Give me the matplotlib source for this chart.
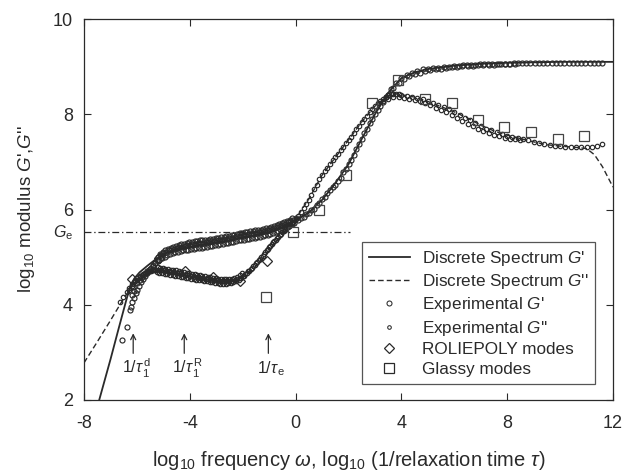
import matplotlib
matplotlib.use('Agg')
import matplotlib.pyplot as plt
from matplotlib.lines import Line2D

plt.rcParams['font.family'] = ['Liberation Sans', 'DejaVu Sans']
plt.rcParams['mathtext.fontset'] = 'custom'
plt.rcParams['mathtext.rm'] = 'Liberation Sans'
plt.rcParams['mathtext.it'] = 'Liberation Sans:italic'
plt.rcParams['mathtext.bf'] = 'Liberation Sans:bold'
plt.rcParams['axes.unicode_minus'] = False
plt.rcParams['lines.scale_dashes'] = False

# ---------------- data ----------------
# Discrete-spectrum fit curves
fit_gp_x = [-7.6, -7.4, -7.0, -6.7, -6.4, -6.26, -6.1, -5.9, -5.6, -5.3, -5.0, -4.5, -4.0, -3.5,
            -3.0, -2.5, -2.0, -1.5, -1.0, -0.5, 0.0, 0.5, 1.0, 1.5, 2.0, 2.5, 3.0, 3.5, 4.0, 4.5,
            5.0, 6.0, 7.0, 8.0, 9.0, 10.0, 11.0, 12.0]
fit_gp_y = [1.65, 2.05, 2.85, 3.48, 4.10, 4.38, 4.55, 4.68, 4.82, 4.95, 5.06, 5.16, 5.22, 5.27,
            5.31, 5.36, 5.42, 5.47, 5.53, 5.63, 5.77, 5.94, 6.20, 6.55, 6.95, 7.48, 8.00, 8.45, 8.76,
            8.88, 8.95, 9.02, 9.06, 9.08, 9.09, 9.10, 9.10, 9.10]

fit_gpp_x = [-8.0, -7.5, -7.0, -6.5, -6.2, -6.0, -5.7, -5.3, -5.0, -4.5, -4.0, -3.5, -3.0, -2.7,
             -2.3, -2.0, -1.5, -1.0, -0.5, 0.0, 0.5, 1.0, 1.5, 2.0, 2.5, 3.0, 3.5, 3.8, 4.0, 4.5,
             5.0, 5.5, 6.0, 6.5, 7.0, 7.5, 8.0, 8.5, 9.0, 9.5, 10.0, 10.5, 11.0, 11.3, 11.6, 12.0]
fit_gpp_y = [2.78, 3.22, 3.67, 4.13, 4.38, 4.52, 4.64, 4.72, 4.71, 4.66, 4.59, 4.53, 4.48, 4.46,
             4.49, 4.57, 4.81, 5.14, 5.48, 5.80, 6.22, 6.72, 7.09, 7.46, 7.84, 8.17, 8.39, 8.43, 8.41, 8.36,
             8.27, 8.16, 8.05, 7.92, 7.77, 7.65, 7.56, 7.49, 7.42, 7.36, 7.33, 7.31, 7.28, 7.15, 6.90, 6.47]

# Experimental G' (several overlapping sweeps)
exp_gp_a_x = [-6.58, -6.39, -6.26, -6.20, -6.12, -6.05, -5.98, -5.92, -5.85, -5.78, -5.70, -5.62,
              -5.55, -5.47, -5.40, -5.32, -5.25,
              -5.2, -5.1, -5.0, -4.9, -4.8, -4.7, -4.6, -4.5, -4.4, -4.3, -4.2, -4.1, -4.0, -3.9,
              -3.8, -3.7, -3.6, -3.5, -3.4, -3.3, -3.2, -3.1, -3.0, -2.9, -2.8, -2.7, -2.6, -2.5,
              -2.4, -2.3, -2.2, -2.1, -2.0, -1.9, -1.8, -1.7, -1.6, -1.5, -1.4, -1.3, -1.2, -1.1,
              -1.0, -0.9, -0.8, -0.7, -0.6, -0.5, -0.4, -0.3, -0.2, -0.1, 0.0,
              0.2, 0.4, 0.6, 0.8, 1.0, 1.2, 1.4, 1.6, 1.8, 2.0, 2.2, 2.4, 2.6, 2.8, 3.0, 3.2, 3.4,
              3.6, 3.8, 4.0, 4.2, 4.4, 4.6, 4.8, 5.0, 5.2, 5.4, 5.6, 5.8,
              6.0, 6.16, 6.32, 6.48, 6.64, 6.80, 6.96, 7.12, 7.28, 7.44, 7.60, 7.76, 7.92, 8.08,
              8.24, 8.40, 8.56, 8.72, 8.88, 9.04, 9.20, 9.36, 9.52, 9.68, 9.84, 10.00, 10.16,
              10.32, 10.48, 10.64, 10.80, 10.96, 11.12, 11.28, 11.44, 11.60]
exp_gp_a_y = [3.26, 3.54, 3.89, 4.06, 4.15, 4.25, 4.32, 4.40, 4.47, 4.54, 4.60, 4.66,
              4.72, 4.78, 4.83, 4.88, 4.93,
              5.00, 5.04, 5.08, 5.11, 5.14, 5.16, 5.18, 5.20, 5.21, 5.22, 5.24, 5.25, 5.26, 5.27,
              5.28, 5.29, 5.29, 5.30, 5.31, 5.32, 5.33, 5.34, 5.35, 5.36, 5.37, 5.38, 5.39, 5.40,
              5.41, 5.42, 5.44, 5.45, 5.46, 5.47, 5.48, 5.49, 5.50, 5.51, 5.52, 5.53, 5.55, 5.56,
              5.57, 5.59, 5.61, 5.63, 5.65, 5.67, 5.70, 5.73, 5.76, 5.79, 5.82,
              5.83, 5.90, 5.99, 6.10, 6.22, 6.35, 6.48, 6.60, 6.78, 6.95, 7.15, 7.38, 7.60, 7.81,
              8.00, 8.18, 8.36, 8.52, 8.66, 8.76, 8.82, 8.87, 8.91, 8.94, 8.96, 8.97, 8.98, 8.99, 9.00,
              9.01, 9.02, 9.03, 9.03, 9.04, 9.04, 9.05, 9.05, 9.05, 9.06, 9.06, 9.06, 9.06, 9.06,
              9.07, 9.07, 9.07, 9.07, 9.07, 9.07, 9.07, 9.07, 9.07, 9.07, 9.07, 9.07, 9.07,
              9.07, 9.07, 9.07, 9.07, 9.07, 9.07, 9.07, 9.07, 9.07]
exp_gp_b_x = [-6.22, -6.18, -6.10, -6.15, -6.0, -5.9, -5.8, -5.7, -5.6, -5.5, -5.4, -5.3, -5.2,
              -5.15, -5.05, -4.95, -4.85, -4.75, -4.65, -4.55, -4.45, -4.35,
              -4.25, -4.15, -4.05, -3.95, -3.85, -3.75, -3.65, -3.55, -3.45, -3.35, -3.25, -3.15,
              -3.05, -2.95, -2.85, -2.75, -2.65, -2.55, -2.45, -2.35, -2.25, -2.15, -2.05, -1.95,
              -1.85, -1.75, -1.65, -1.55, -1.45, -1.35, -1.25, -1.15, -1.05, -0.95, -0.85, -0.75,
              -0.65, -0.55, -0.45, -0.35, -0.25, -0.15, -0.05,
              0.1, 0.3, 0.5, 0.7, 0.9, 1.1, 1.3, 1.5, 1.7, 1.9, 2.1, 2.3, 2.5, 2.7, 2.9, 3.1, 3.3,
              3.5, 3.7, 3.9, 4.1, 4.3, 4.5, 4.7, 4.9, 5.1, 5.3, 5.5, 5.7, 5.9, 6.1, 6.3, 6.5, 6.7,
              6.9, 7.1, 7.3, 7.5, 7.7, 7.9, 8.1, 8.3]
exp_gp_b_y = [3.95, 4.20, 4.28, 4.38, 4.45, 4.52, 4.58, 4.64, 4.70, 4.76, 4.82, 4.87, 4.91,
              4.94, 4.98, 5.01, 5.04, 5.06, 5.08, 5.10, 5.11, 5.12,
              5.14, 5.15, 5.16, 5.17, 5.18, 5.19, 5.20, 5.20, 5.21, 5.22, 5.23, 5.24,
              5.25, 5.26, 5.27, 5.28, 5.29, 5.30, 5.31, 5.32, 5.33, 5.35, 5.36, 5.37,
              5.38, 5.39, 5.40, 5.41, 5.42, 5.43, 5.44, 5.46, 5.47, 5.49, 5.51, 5.53,
              5.55, 5.58, 5.60, 5.63, 5.66, 5.69, 5.72,
              5.78, 5.85, 5.93, 6.02, 6.14, 6.26, 6.40, 6.52, 6.66, 6.84, 7.04, 7.26, 7.49, 7.70,
              7.90, 8.08, 8.26, 8.40, 8.55, 8.66, 8.74, 8.80, 8.84, 8.87, 8.90, 8.92, 8.94, 8.96,
              8.97, 8.99, 9.00, 9.01, 9.02, 9.02, 9.03, 9.03, 9.04, 9.04, 9.05, 9.05, 9.06, 9.06]
exp_gp_c_x = [-5.12, -5.02, -4.92, -4.82, -4.72, -4.62, -4.52, -4.42, -4.32, -4.22, -4.12, -4.02,
              -3.92, -3.82, -3.72, -3.62, -3.52, -3.42, -3.32, -3.22, -3.12, -3.02, -2.92, -2.82,
              -2.72, -2.62, -2.52, -2.42, -2.32, -2.22, -2.12, -2.02, -1.92, -1.82, -1.72, -1.62,
              -1.52, -1.42, -1.32, -1.22, -1.12, -1.02, -0.92, -0.82, -0.72, -0.62, -0.52, -0.42,
              -0.32, -0.22, -0.12]
exp_gp_c_y = [5.07, 5.11, 5.14, 5.17, 5.20, 5.22, 5.24, 5.26, 5.27, 5.28, 5.30, 5.31,
              5.32, 5.33, 5.34, 5.35, 5.35, 5.36, 5.37, 5.38, 5.39, 5.40, 5.41, 5.42,
              5.43, 5.44, 5.45, 5.46, 5.47, 5.48, 5.50, 5.51, 5.52, 5.53, 5.54, 5.55,
              5.56, 5.57, 5.58, 5.59, 5.61, 5.62, 5.63, 5.65, 5.67, 5.69, 5.71, 5.73,
              5.76, 5.79, 5.82]

# Experimental G''
exp_gpp_a_x = [-6.64, -6.51, -6.39, -6.28, -6.18, -6.08, -5.98, -5.88, -5.78, -5.68, -5.58,
               -5.48, -5.38, -5.28,
               -5.2, -5.1, -5.0, -4.9, -4.8, -4.7, -4.6, -4.5, -4.4, -4.3, -4.2, -4.1, -4.0, -3.9,
               -3.8, -3.7, -3.6, -3.5, -3.4, -3.3, -3.2, -3.1, -3.0, -2.9, -2.8, -2.7, -2.6, -2.5,
               -2.4, -2.3, -2.2, -2.1, -2.0, -1.9, -1.8, -1.7, -1.6, -1.5, -1.4, -1.3, -1.2, -1.1,
               -1.0, -0.9, -0.8, -0.7, -0.6, -0.5, -0.4, -0.3, -0.2, -0.1, 0.0,
               0.1, 0.2, 0.3, 0.4, 0.5, 0.6, 0.7, 0.8, 0.9, 1.0, 1.1, 1.2, 1.3, 1.4, 1.5, 1.6, 1.7,
               1.8, 1.9, 2.0, 2.1, 2.2, 2.3, 2.4, 2.5, 2.6, 2.7, 2.8, 2.9, 3.0, 3.1, 3.2, 3.3, 3.4,
               3.5, 3.6, 3.7, 3.8, 3.9, 4.0,
               4.2, 4.4, 4.6, 4.8, 5.0, 5.2, 5.4, 5.6, 5.8, 6.0, 6.2, 6.4, 6.6, 6.8, 7.0, 7.2,
               7.4, 7.6, 7.8, 8.0, 8.2, 8.4, 8.6, 8.8, 9.0, 9.2, 9.4, 9.6, 9.8, 10.0, 10.2, 10.4,
               10.6, 10.8, 11.0, 11.2, 11.4, 11.6]
exp_gpp_a_y = [4.06, 4.17, 4.27, 4.36, 4.44, 4.50, 4.56, 4.61, 4.64, 4.67, 4.69,
               4.71, 4.72, 4.73,
               4.74, 4.73, 4.72, 4.71, 4.70, 4.69, 4.68, 4.67, 4.66, 4.64, 4.63, 4.62, 4.61, 4.60,
               4.59, 4.58, 4.57, 4.56, 4.55, 4.54, 4.53, 4.52, 4.51, 4.50, 4.49, 4.49, 4.49, 4.49,
               4.50, 4.52, 4.54, 4.57, 4.61, 4.65, 4.70, 4.75, 4.81, 4.87, 4.93, 5.00, 5.07, 5.14,
               5.21, 5.28, 5.34, 5.40, 5.46, 5.52, 5.58, 5.64, 5.69, 5.74, 5.80,
               5.86, 5.95, 6.03, 6.11, 6.20, 6.30, 6.42, 6.52, 6.63, 6.72, 6.80, 6.88, 6.96, 7.03,
               7.10, 7.17, 7.24, 7.32, 7.39, 7.46, 7.53, 7.61, 7.68, 7.76, 7.83, 7.90, 7.97, 8.04,
               8.11, 8.17, 8.23, 8.28, 8.33, 8.37, 8.40, 8.42, 8.43, 8.43, 8.42, 8.41,
               8.39, 8.37, 8.34, 8.31, 8.28, 8.24, 8.20, 8.15, 8.10, 8.05, 7.99, 7.93, 7.87, 7.81,
               7.76, 7.70, 7.66, 7.62, 7.58, 7.55, 7.52, 7.50, 7.48, 7.45, 7.42, 7.39, 7.37, 7.35,
               7.34, 7.33, 7.32, 7.32, 7.31, 7.31, 7.31, 7.32, 7.34, 7.37]
exp_gpp_b_x = [-6.3, -6.2, -6.1, -6.0, -5.9, -5.8, -5.7, -5.6, -5.5, -5.4, -5.3,
               -5.25, -5.15, -5.05, -4.95, -4.85, -4.75, -4.65, -4.55, -4.45, -4.35, -4.25, -4.15,
               -4.05, -3.95, -3.85, -3.75, -3.65, -3.55, -3.45, -3.35, -3.25, -3.15, -3.05, -2.95,
               -2.85, -2.75, -2.65, -2.55, -2.45, -2.35, -2.25, -2.15, -2.05, -1.95, -1.85, -1.75,
               -1.65, -1.55, -1.45, -1.35, -1.25, -1.15, -1.05, -0.95, -0.85, -0.75, -0.65, -0.55,
               -0.45, -0.35, -0.25, -0.15,
               3.3, 3.5, 3.7, 3.9, 4.1, 4.3, 4.5, 4.7, 4.9, 5.1, 5.3, 5.5, 5.7, 5.9, 6.1, 6.3,
               6.5, 6.7, 6.9, 7.1, 7.3, 7.5, 7.7, 7.9, 8.1, 8.3, 8.5]
exp_gpp_b_y = [4.32, 4.40, 4.47, 4.53, 4.58, 4.62, 4.66, 4.69, 4.71, 4.72, 4.73,
               4.68, 4.67, 4.66, 4.65, 4.64, 4.63, 4.62, 4.61, 4.60, 4.59, 4.58, 4.57,
               4.56, 4.55, 4.54, 4.53, 4.52, 4.51, 4.50, 4.49, 4.48, 4.47, 4.46, 4.45,
               4.44, 4.44, 4.44, 4.45, 4.46, 4.48, 4.50, 4.53, 4.57, 4.61, 4.66, 4.71,
               4.77, 4.83, 4.89, 4.96, 5.03, 5.10, 5.17, 5.24, 5.31, 5.37, 5.43, 5.49,
               5.55, 5.61, 5.66, 5.71,
               8.27, 8.33, 8.36, 8.36, 8.35, 8.33, 8.30, 8.27, 8.23, 8.19, 8.14, 8.09, 8.04, 7.98,
               7.92, 7.86, 7.80, 7.75, 7.70, 7.65, 7.61, 7.57, 7.54, 7.51, 7.49, 7.47, 7.45]
exp_gpp_c_x = [-5.22, -5.12, -5.02, -4.92, -4.82, -4.72, -4.62, -4.52, -4.42, -4.32, -4.22,
               -4.12, -4.02, -3.92, -3.82, -3.72, -3.62, -3.52, -3.42, -3.32, -3.22, -3.12,
               -3.02, -2.92, -2.82, -2.72, -2.62, -2.52, -2.42, -2.32, -2.22, -2.12, -2.02]
exp_gpp_c_y = [4.79, 4.78, 4.77, 4.76, 4.75, 4.74, 4.73, 4.72, 4.71, 4.69, 4.68,
               4.67, 4.66, 4.65, 4.64, 4.63, 4.62, 4.61, 4.60, 4.59, 4.58, 4.57,
               4.56, 4.55, 4.54, 4.54, 4.54, 4.54, 4.55, 4.57, 4.59, 4.62, 4.66]

# Mode spectra
rp_x = [-6.20, -5.16, -4.17, -3.13, -2.10, -1.09]
rp_y = [4.54, 4.98, 4.71, 4.59, 4.50, 4.92]
gl_x = [-1.13, -0.11, 0.89, 1.90, 2.90, 3.88, 4.89, 5.90, 6.88, 7.88, 8.89, 9.91, 10.90]
gl_y = [4.17, 5.53, 6.00, 6.72, 8.24, 8.72, 8.33, 8.23, 7.88, 7.73, 7.62, 7.47, 7.55]

Ge = 5.52
Ge_x = [-8.0, 2.06]

arrow_x = [-6.14, -4.21, -1.03]
arrow_labels = [r'1/$\tau_{\,1}^{\,\rm d}$', r'1/$\tau_{\,1}^{\,\rm R}$', r'1/$\tau_{\,\rm e}$']
label_x = [-6.0, -4.1, -0.93]

xticks = [-8, -4, 0, 4, 8, 12]
yticks = [2, 4, 6, 8, 10]

# ---------------- plot ----------------
ink = '#2a2a2a'
fig = plt.figure(figsize=(6.26, 4.76), dpi=100)
ax = fig.add_axes([84/626, 1-400/476, 529/626, 381/476])

ax.plot(fit_gp_x, fit_gp_y, '-', color=ink, lw=1.3, zorder=2)
ax.plot(fit_gpp_x, fit_gpp_y, color=ink, lw=1.0, dashes=(4.0, 2.2), zorder=2)

mk = dict(linestyle='none', marker='o', mfc='none', mec=ink, mew=0.85, zorder=3)
for xs, ys in [(exp_gp_a_x, exp_gp_a_y), (exp_gp_b_x, exp_gp_b_y), (exp_gp_c_x, exp_gp_c_y)]:
    ax.plot(xs, ys, ms=3.6, **mk)
for xs, ys in [(exp_gpp_a_x, exp_gpp_a_y), (exp_gpp_b_x, exp_gpp_b_y), (exp_gpp_c_x, exp_gpp_c_y)]:
    ax.plot(xs, ys, ms=3.2, **mk)

ax.plot(rp_x, rp_y, linestyle='none', marker='D', ms=5.6, mfc='none', mec=ink, mew=0.9, zorder=4)
ax.plot(gl_x, gl_y, linestyle='none', marker='s', ms=6.8, mfc='none', mec='#444444', mew=0.9, zorder=4)

ax.plot(Ge_x, [Ge, Ge], color=ink, lw=0.9, dashes=(5.0, 2.0, 1.0, 2.0), zorder=1)

for xa, lab, xl in zip(arrow_x, arrow_labels, label_x):
    ax.annotate('', xy=(xa, 3.40), xytext=(xa, 2.98),
                arrowprops=dict(arrowstyle='->', color=ink, lw=0.9,
                                mutation_scale=9, shrinkA=0, shrinkB=0))
    ax.text(xl, 2.56, lab, ha='center', va='baseline', fontsize=11.5, color=ink)

ax.set_xlim(-8, 12)
ax.set_ylim(2, 10)
ax.set_xticks(xticks)
ax.set_yticks(yticks)
ax.set_xticklabels([str(v) for v in xticks])
ax.set_yticklabels([str(v) for v in yticks])
ax.tick_params(direction='in', length=5, width=0.8, colors=ink, labelsize=13,
               top=True, right=True, pad=8)
ax.tick_params(axis='x', pad=11)
for s in ax.spines.values():
    s.set_linewidth(0.9)
    s.set_color(ink)

ax.text(-0.02, Ge, r'$G_{\rm e}$', transform=ax.get_yaxis_transform(),
        ha='right', va='center', fontsize=11.5, color=ink)

ax.set_ylabel(r"log$_{10}$ modulus $G$',$G$''", fontsize=13.5, color=ink, labelpad=11)
ax.set_xlabel(r"log$_{10}$ frequency $\omega$, log$_{10}$ (1/relaxation time $\tau$)",
              fontsize=14.5, color=ink, labelpad=12)

handles = [
    Line2D([], [], color=ink, lw=1.3),
    Line2D([], [], color=ink, lw=1.0, dashes=(4.0, 2.2)),
    Line2D([], [], linestyle='none', marker='o', ms=3.6, mfc='none', mec=ink, mew=0.75),
    Line2D([], [], linestyle='none', marker='o', ms=2.6, mfc='none', mec=ink, mew=0.75),
    Line2D([], [], linestyle='none', marker='D', ms=5.6, mfc='none', mec=ink, mew=0.9),
    Line2D([], [], linestyle='none', marker='s', ms=6.8, mfc='none', mec=ink, mew=0.9),
]
labels = ["Discrete Spectrum $G$'", "Discrete Spectrum $G$''", "Experimental $G$'",
          "Experimental $G$''", "ROLIEPOLY modes", "Glassy modes"]
leg = ax.legend(handles, labels, loc='upper left', bbox_to_anchor=(0.525, 0.4155),
                borderaxespad=0, fontsize=12.3, frameon=True, fancybox=False,
                edgecolor=ink, handlelength=2.4, handletextpad=0.7, labelspacing=0.26,
                borderpad=0.4)
leg.get_frame().set_linewidth(0.9)
for t in leg.get_texts():
    t.set_color(ink)

fig.savefig('out.png', dpi=100)
